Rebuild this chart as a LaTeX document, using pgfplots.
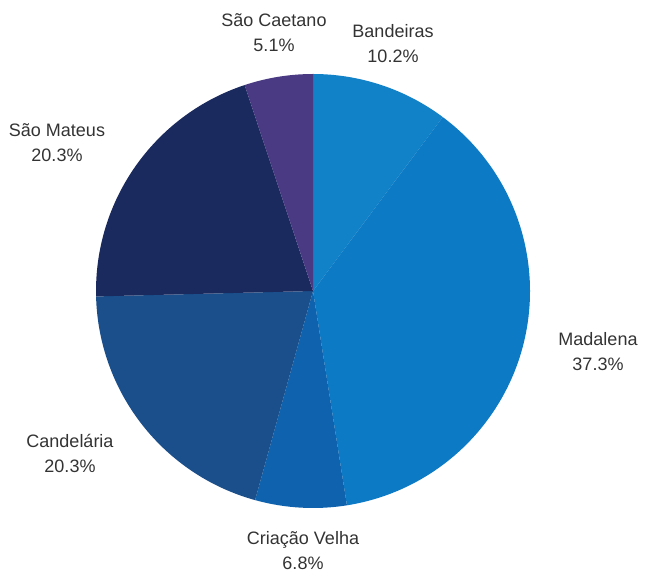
\documentclass[border=0pt]{standalone}
\usepackage{pgfplots}
\pgfplotsset{compat=1.18}
\usepackage{fontspec}
\setmainfont{Liberation Sans}
\usepackage{xcolor}
\definecolor{cband}{HTML}{1181C8}
\definecolor{cmada}{HTML}{0D7AC6}
\definecolor{ccria}{HTML}{0F63AE}
\definecolor{ccand}{HTML}{1A4F8C}
\definecolor{cmate}{HTML}{1B2A5E}
\definecolor{ccaet}{HTML}{4A3A84}
\definecolor{labtxt}{HTML}{333333}

\tikzset{lab/.style={font=\fontsize{18}{25}\selectfont, text=labtxt, align=center}}

% slice from cumulative percent #1 to #2, clockwise from 12 o'clock
\newcommand{\pieslice}[3]{%
  \fill[#3] (axis cs:313,-291) -- ++({90-3.6*#1}:217pt)
    arc[start angle={90-3.6*#1}, end angle={90-3.6*#2}, radius=217pt] -- cycle;}

\begin{document}
\begin{tikzpicture}
  \begin{axis}[
      scale only axis,
      width=645pt, height=572pt,
      xmin=0, xmax=645, ymin=-572, ymax=0,
      hide axis, clip=false
    ]
    \path (axis cs:0,0) rectangle (axis cs:645,-572);
    % shares: Bandeiras 10.2, Madalena 37.3, Criacao Velha 6.8,
    % Candelaria 20.3, Sao Mateus 20.3, Sao Caetano 5.1
    \pieslice{0}{10.2}{cband}
    \pieslice{10.2}{47.5}{cmada}
    \pieslice{47.5}{54.3}{ccria}
    \pieslice{54.3}{74.6}{ccand}
    \pieslice{74.6}{94.9}{cmate}
    \pieslice{94.9}{100}{ccaet}

    \node[lab] at (axis cs:274,-33) {São Caetano\\5.1\%};
    \node[lab] at (axis cs:393,-44) {Bandeiras\\10.2\%};
    \node[lab] at (axis cs:57,-143) {São Mateus\\20.3\%};
    \node[lab] at (axis cs:598,-352) {Madalena\\37.3\%};
    \node[lab] at (axis cs:70,-453) {Candelária\\20.3\%};
    \node[lab] at (axis cs:303,-551) {Criação Velha\\6.8\%};
  \end{axis}
\end{tikzpicture}
\end{document}
